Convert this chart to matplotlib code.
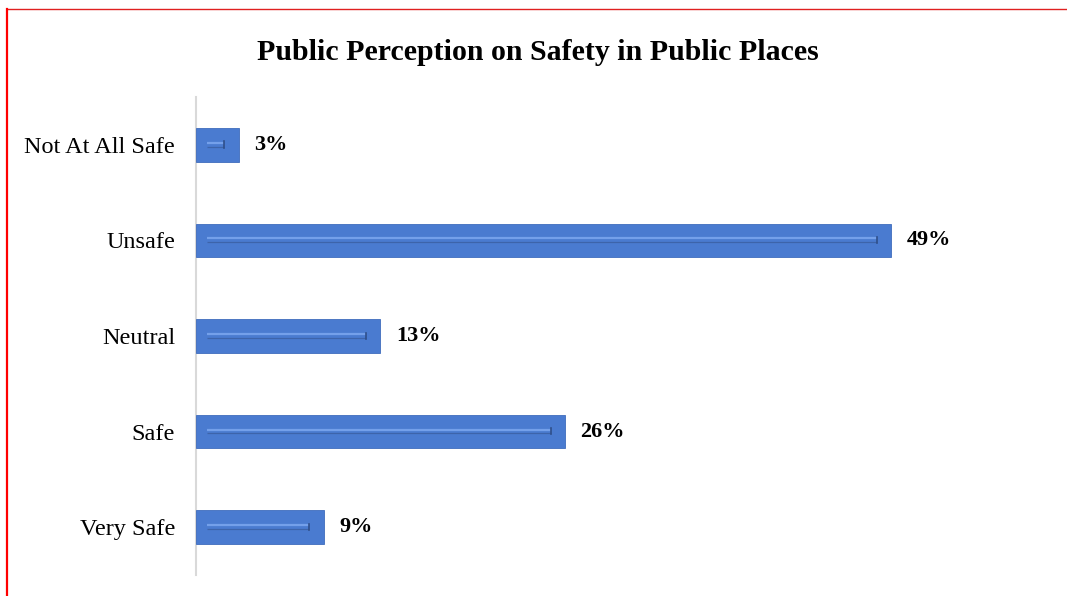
import matplotlib
matplotlib.use("Agg")
import matplotlib.pyplot as plt
from matplotlib.lines import Line2D

categories = ["Not At All Safe", "Unsafe", "Neutral", "Safe", "Very Safe"]
values = [3, 49, 13, 26, 9]
labels = ["3%", "49%", "13%", "26%", "9%"]
title = "Public Perception on Safety in Public Places"

plt.rcParams['font.family'] = ['Liberation Serif', 'DejaVu Serif']

fig = plt.figure(figsize=(10.67, 5.96), dpi=100)
ax = fig.add_axes([196/1067, 1 - 575/596, (1047-196)/1067, (575-97)/596])

ypos = list(range(len(categories)))
bar_color = "#4a7bd0"
bars = ax.barh(ypos, values, height=0.35, color=bar_color, edgecolor="#3f6cbc", linewidth=0.6, zorder=3)

# bevel-like inner highlight
for y, v in zip(ypos, values):
    x0 = 0.8
    x1 = v - 1.0
    ax.plot([x0, x1], [y - 0.02, y - 0.02], color="#74a0ea", lw=1.6, zorder=4, solid_capstyle="butt")
    ax.plot([x0, x1], [y + 0.018, y + 0.018], color="#3d64aa", lw=0.9, zorder=4, solid_capstyle="butt")
    ax.plot([x1, x1], [y - 0.035, y + 0.03], color="#2f4f8a", lw=1.2, zorder=5)

for y, v, lab in zip(ypos, values, labels):
    ax.text(v + 1.1, y, lab, va="center", ha="left", fontsize=16, fontweight="bold", color="#000000")

ax.set_xlim(0, 60)
ax.set_ylim(len(categories) - 0.5, -0.5)
ax.set_yticks(ypos)
ax.set_yticklabels(categories, fontsize=17.5)
ax.tick_params(axis="y", length=0, pad=15)
ax.set_xticks([])
for s in ["top", "right", "bottom"]:
    ax.spines[s].set_visible(False)
ax.spines["left"].set_color("#d9d9d9")
ax.spines["left"].set_linewidth(1.5)

fig.text(538/1067, 1 - 52/596, title, ha="center", va="center", fontsize=21.5, fontweight="bold")

# frame lines (red)
fig.add_artist(Line2D([7/1067, 1.0], [1 - 9/596, 1 - 9/596], color="#e02020", lw=1.0, transform=fig.transFigure))
fig.add_artist(Line2D([7/1067, 7/1067], [1 - 9/596, 0], color="#ff0000", lw=1.6, transform=fig.transFigure))

fig.savefig("out.png", dpi=100)
